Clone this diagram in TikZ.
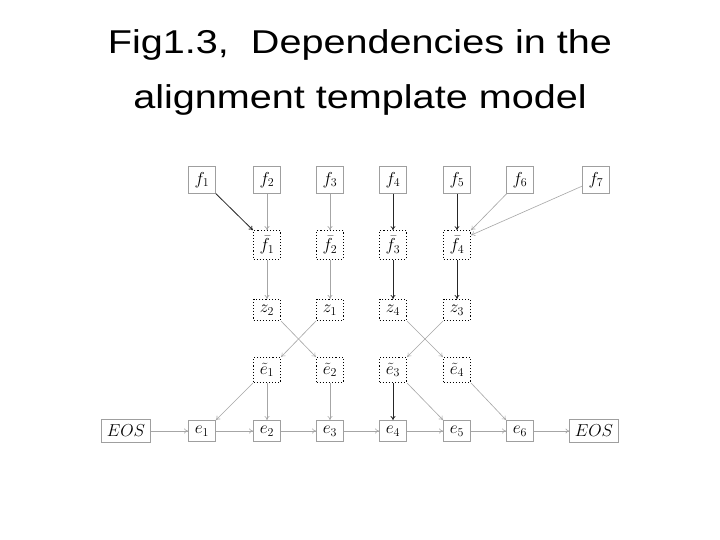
\documentclass[tikz,border=0pt]{standalone}
\usepackage{fontspec}
\setmainfont{Liberation Sans}
\usetikzlibrary{arrows.meta}
\begin{document}
\begin{tikzpicture}[x=1pt,y=-1pt,
  obs/.style={draw=gray!75,line width=0.8pt,inner xsep=5pt,inner ysep=5.5pt,minimum width=27pt,font=\fontsize{18.5}{20}\selectfont,fill=white},
  hid/.style={draw=black,dotted,line width=1.1pt,inner xsep=5pt,inner ysep=5.5pt,minimum width=27pt,font=\fontsize{18.5}{20}\selectfont,fill=white},
  lnk/.style={draw=gray!70,line width=0.6pt,-{To[length=4pt,width=5pt]}},
  dlnk/.style={draw=black!85,line width=0.8pt,-{To[length=4pt,width=5pt]}},
  ttl/.style={font=\fontsize{33}{40}\selectfont,anchor=base}]
\useasboundingbox (0,0) rectangle (720,540);
\fill[white] (0,0) rectangle (720,540);
\node[ttl] (t1) at (360,54) {\scalebox{1.2}[1]{Fig1.3,\ \ Dependencies in the}};
\node[ttl] (t2) at (360,109) {\scalebox{1.2}[1]{alignment template model}};
% f row
\node[obs] (f1) at (202,180) {$f_1$};
\node[obs] (f2) at (267,180) {$f_2$};
\node[obs] (f3) at (330,180) {$f_3$};
\node[obs] (f4) at (393,180) {$f_4$};
\node[obs] (f5) at (457,180) {$f_5$};
\node[obs] (f6) at (520,180) {$f_6$};
\node[obs] (f7) at (596,180) {$f_7$};
% phrase row
\node[hid] (g1) at (267,245) {$\bar{f}_1$};
\node[hid] (g2) at (330,245) {$\bar{f}_2$};
\node[hid] (g3) at (393,245) {$\bar{f}_3$};
\node[hid] (g4) at (457,245) {$\bar{f}_4$};
% z row
\node[hid] (z2) at (267,310) {$z_2$};
\node[hid] (z1) at (330,310) {$z_1$};
\node[hid] (z4) at (393,310) {$z_4$};
\node[hid] (z3) at (457,310) {$z_3$};
% tilde e row
\node[hid] (c1) at (267,370) {$\tilde{e}_1$};
\node[hid] (c2) at (330,370) {$\tilde{e}_2$};
\node[hid] (c3) at (393,370) {$\tilde{e}_3$};
\node[hid] (c4) at (457,370) {$\tilde{e}_4$};
% e row
\node[obs] (eosl) at (126,431) {$EOS$};
\node[obs] (e1) at (202,431) {$e_1$};
\node[obs] (e2) at (267,431) {$e_2$};
\node[obs] (e3) at (330,431) {$e_3$};
\node[obs] (e4) at (393,431) {$e_4$};
\node[obs] (e5) at (457,431) {$e_5$};
\node[obs] (e6) at (520,431) {$e_6$};
\node[obs] (eosr) at (594,431) {$EOS$};
% f -> phrases
\draw[dlnk] (f1) -- (g1.north west);
\draw[lnk] (f2) -- (g1);
\draw[lnk] (f3) -- (g2);
\draw[dlnk] (f4) -- (g3);
\draw[dlnk] (f5) -- (g4);
\draw[lnk] (f6) -- (g4.north east);
\draw[lnk] (f7) -- ([yshift=-5pt]g4.north east);
% phrases -> z
\draw[lnk] (g1) -- (z2);
\draw[lnk] (g2) -- (z1);
\draw[dlnk] (g3) -- (z4);
\draw[dlnk] (g4) -- (z3);
% z -> tilde e (crossings)
\draw[lnk] (z2.south east) -- (c2.north west);
\draw[lnk] (z1.south west) -- (c1.north east);
\draw[lnk] (z4.south east) -- (c4.north west);
\draw[lnk] (z3.south west) -- (c3.north east);
% tilde e -> e
\draw[lnk] (c1.south west) -- (e1.north east);
\draw[lnk] (c1) -- (e2);
\draw[lnk] (c2) -- (e3);
\draw[dlnk] (c3) -- (e4);
\draw[lnk] (c3.south east) -- (e5.north west);
\draw[lnk] (c4.south east) -- (e6.north west);
% e chain
\draw[lnk] (eosl) -- (e1);
\draw[lnk] (e1) -- (e2);
\draw[lnk] (e2) -- (e3);
\draw[lnk] (e3) -- (e4);
\draw[lnk] (e4) -- (e5);
\draw[lnk] (e5) -- (e6);
\draw[lnk] (e6) -- (eosr);
\end{tikzpicture}
\end{document}
